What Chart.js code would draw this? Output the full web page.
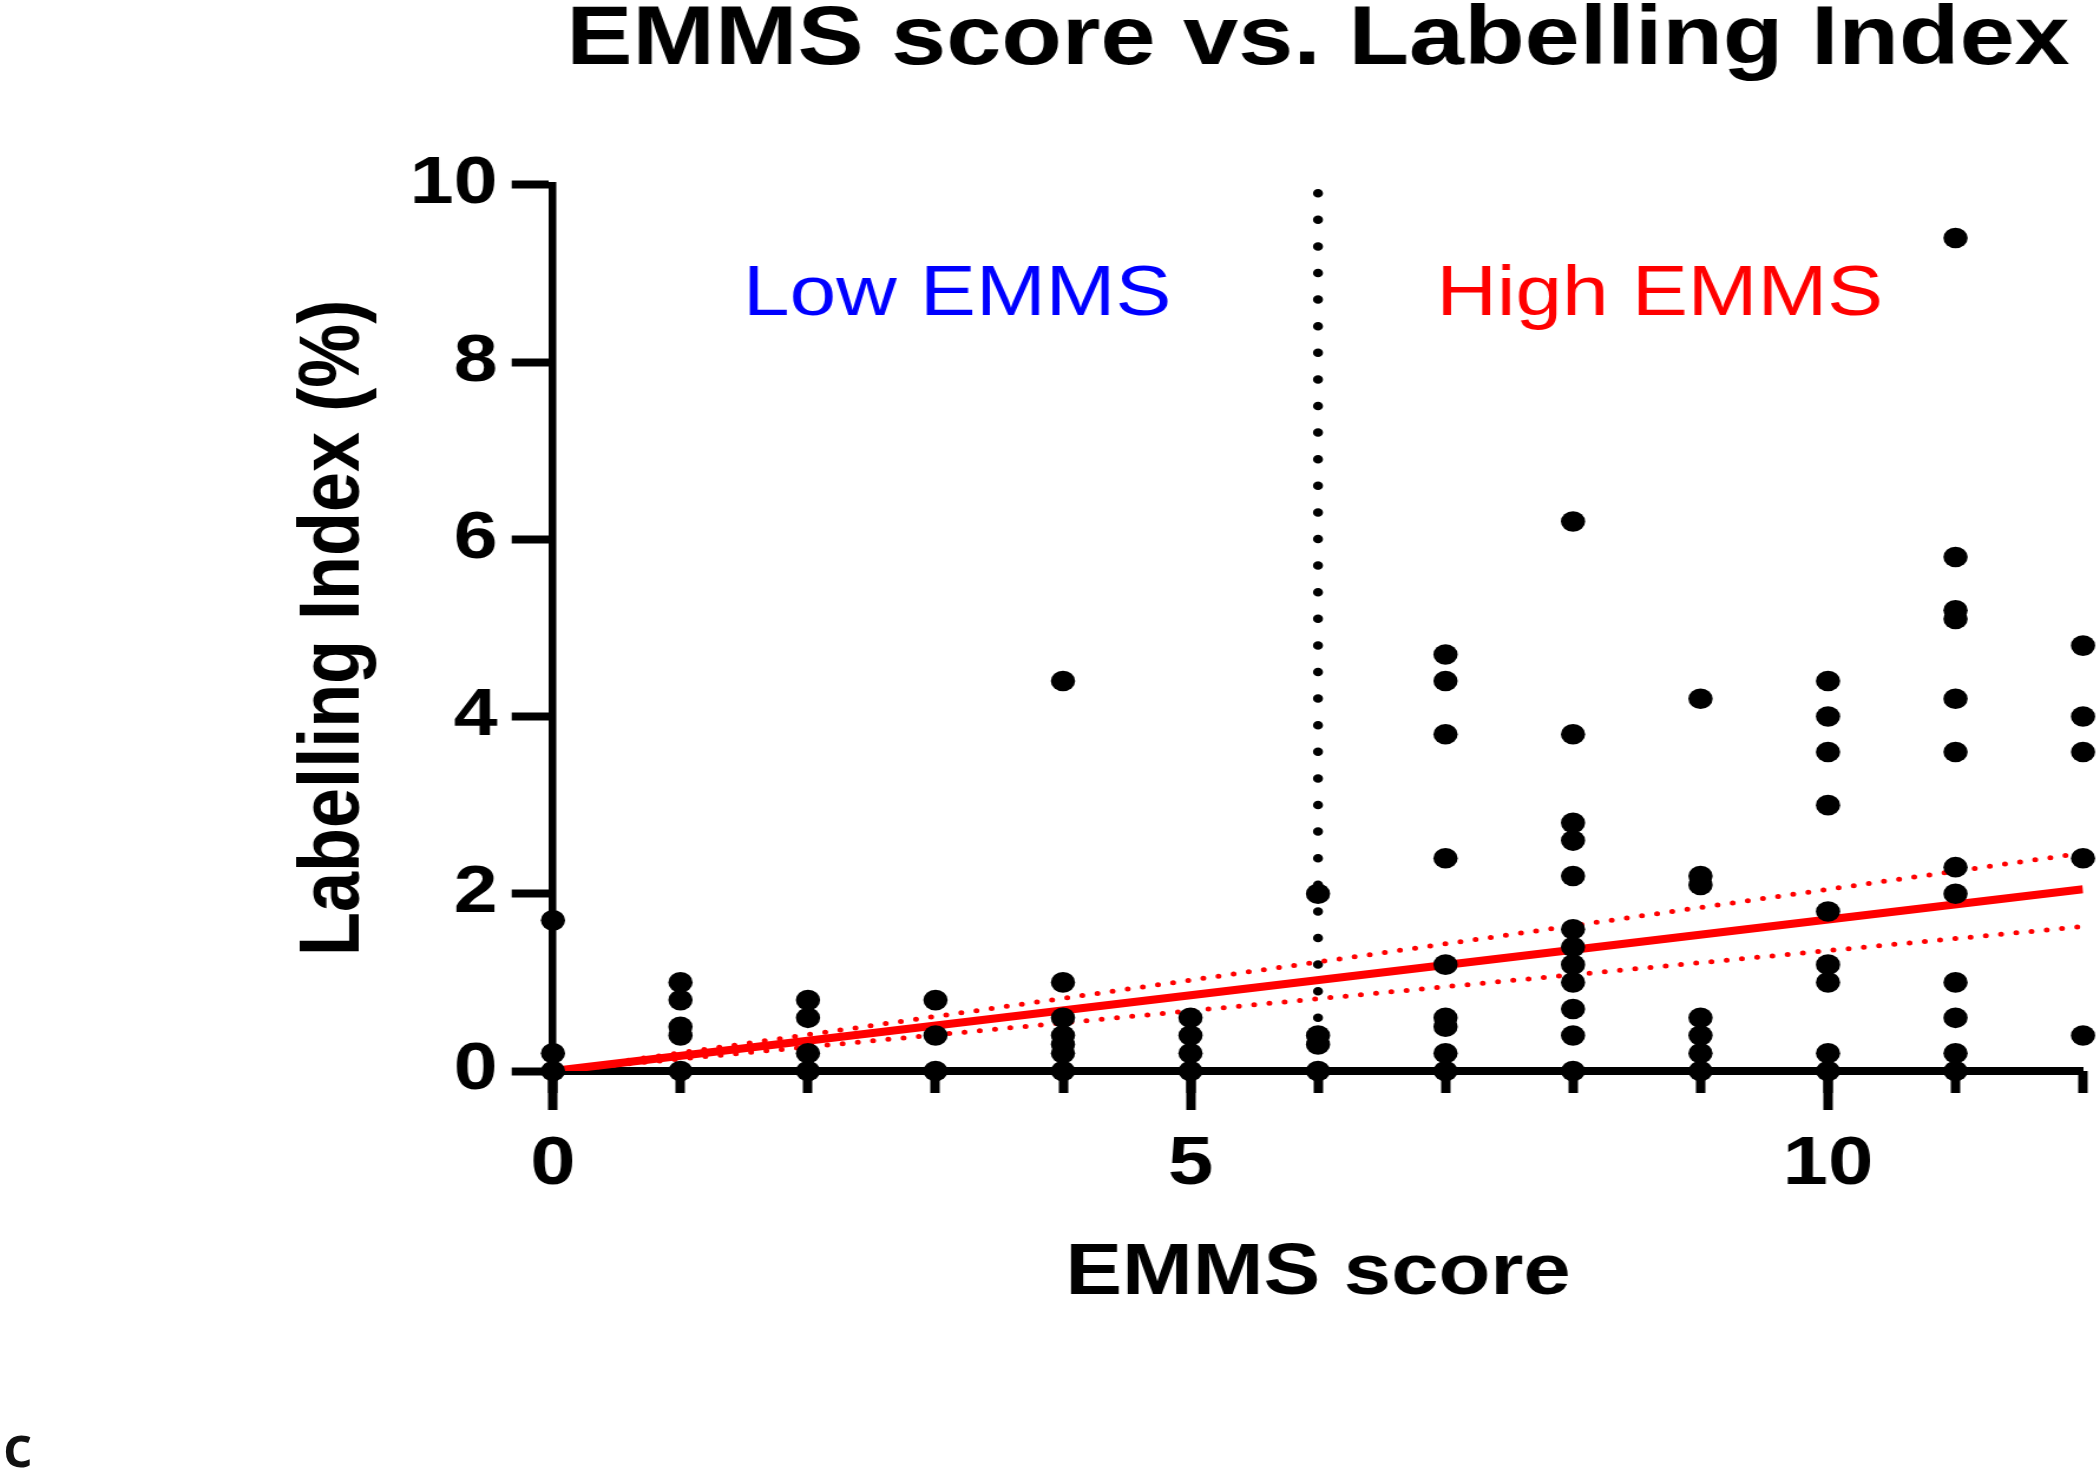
<!DOCTYPE html>
<html lang="en">
<head>
    <meta charset="UTF-8">
    <title>EMMS score vs. Labelling Index</title>
    <script src="https://cdn.jsdelivr.net/npm/chart.js"></script>
    <style>
        html, body {
            margin: 0;
            padding: 0;
            background: #fff;
            width: 2100px;
            height: 1474px;
            overflow: hidden;
        }
        /* the original figure is stretched sideways, so the chart is drawn narrower and widened */
        #wrap {
            position: absolute;
            left: 0;
            top: 0;
            width: 1780px;
            height: 1474px;
            transform: scaleX(1.17978);
            transform-origin: 0 0;
        }
        #panel {
            position: absolute;
            left: 3px;
            top: 1416px;
            font-family: 'Noto Sans', sans-serif;
            font-weight: 600;
            font-size: 58px;
            line-height: 1;
            color: #111;
        }
    </style>
</head>
<body>
    <div id="wrap">
        <canvas id="emmsChart" width="1780" height="1474"></canvas>
    </div>
    <div id="panel">c</div>

    <script>
        // EMMS score categories (x) and the labelling index values seen at each score
        const emmsScores = [0, 1, 2, 3, 4, 5, 6, 7, 8, 9, 10, 11, 12];
        const labellingIndex = [
            [1.7, 0.2, 0],
            [1.0, 0.8, 0.5, 0.4, 0],
            [0.8, 0.6, 0.2, 0],
            [0.8, 0.4, 0],
            [4.4, 1.0, 0.6, 0.4, 0.3, 0.2, 0],
            [0.6, 0.4, 0.2, 0],
            [2.0, 0.4, 0.3, 0],
            [4.7, 4.4, 3.8, 2.4, 1.2, 0.6, 0.5, 0.2, 0],
            [6.2, 3.8, 2.8, 2.6, 2.2, 1.6, 1.4, 1.2, 1.0, 0.7, 0.4, 0],
            [4.2, 2.2, 2.1, 0.6, 0.4, 0.2, 0],
            [4.4, 4.0, 3.6, 3.0, 1.8, 1.2, 1.0, 0.2, 0],
            [9.4, 5.8, 5.2, 5.1, 4.2, 3.6, 2.3, 2.0, 1.0, 0.6, 0.2, 0],
            [4.8, 4.0, 3.6, 2.4, 0.4]
        ];

        // regression line and its confidence band (ends at x = 0 and x = 12)
        const fitX = [0, 12];
        const fitY = [0, 2.05];
        const ciUpperY = [0, 2.46];
        const ciLowerY = [0, 1.63];

        // cut-off between low and high EMMS
        const cutoffX = [6, 6];
        const cutoffY = [0, 10];

        const yTicks = [0, 2, 4, 6, 8, 10];

        const regionLabels = [
            { text: 'Low EMMS', x: 3.17, y: 8.75, color: '#0000ff' },
            { text: 'High EMMS', x: 8.68, y: 8.75, color: '#ff0000' }
        ];

        const points = [];
        emmsScores.forEach((s, i) => {
            labellingIndex[i].forEach(v => points.push({ x: s, y: v }));
        });
        const toXY = (xs, ys) => xs.map((x, i) => ({ x: x, y: ys[i] }));

        const boldFont = (size) => ({ family: "'Liberation Sans', Arial, sans-serif", weight: 'bold', size: size, lineHeight: 1 });

        // text labels inside the plot, placed through the scales
        const regionLabelPlugin = {
            id: 'regionLabels',
            afterDatasetsDraw(chart) {
                const { ctx, scales } = chart;
                ctx.save();
                ctx.font = "71px 'Liberation Sans', Arial, sans-serif";
                ctx.textAlign = 'center';
                ctx.textBaseline = 'middle';
                regionLabels.forEach(l => {
                    ctx.fillStyle = l.color;
                    ctx.fillText(l.text, scales.x.getPixelForValue(l.x), scales.y.getPixelForValue(l.y));
                });
                ctx.restore();
            }
        };

        const ctx = document.getElementById('emmsChart').getContext('2d');

        new Chart(ctx, {
            type: 'scatter',
            data: {
                datasets: [
                    {
                        label: 'Labelling Index',
                        data: points,
                        pointRadius: 10.3,
                        pointBackgroundColor: '#000',
                        pointBorderWidth: 0,
                        clip: false,
                        order: 0
                    },
                    {
                        label: 'Fit',
                        data: toXY(fitX, fitY),
                        showLine: true,
                        borderColor: '#ff0000',
                        borderWidth: 8,
                        pointRadius: 0,
                        order: 1
                    },
                    {
                        label: 'CI upper',
                        data: toXY(fitX, ciUpperY),
                        showLine: true,
                        borderColor: '#ff0000',
                        borderWidth: 5,
                        borderDash: [0, 13],
                        borderCapStyle: 'round',
                        pointRadius: 0,
                        order: 2
                    },
                    {
                        label: 'CI lower',
                        data: toXY(fitX, ciLowerY),
                        showLine: true,
                        borderColor: '#ff0000',
                        borderWidth: 5,
                        borderDash: [0, 13],
                        borderCapStyle: 'round',
                        pointRadius: 0,
                        order: 2
                    },
                    {
                        label: 'Cut-off',
                        data: toXY(cutoffX, cutoffY),
                        showLine: true,
                        borderColor: '#000',
                        borderWidth: 8.5,
                        borderDash: [0, 26.6],
                        borderCapStyle: 'round',
                        pointRadius: 0,
                        clip: false,
                        order: 3
                    }
                ]
            },
            options: {
                responsive: false,
                animation: false,
                layout: { padding: { left: 0, right: 14.4, top: 0, bottom: 0 } },
                scales: {
                    x: {
                        type: 'linear',
                        position: 'bottom',
                        weight: 1,
                        min: 0,
                        max: 12,
                        afterFit: (scale) => { scale.height = 403; },
                        border: { display: true, color: '#000', width: 8 },
                        grid: {
                            drawOnChartArea: false,
                            drawTicks: true,
                            tickLength: 39,
                            tickWidth: 8,
                            tickColor: '#000'
                        },
                        ticks: {
                            stepSize: 5,
                            includeBounds: false,
                            padding: 20,
                            color: '#000',
                            font: boldFont(69)
                        },
                        title: {
                            display: true,
                            text: 'EMMS score',
                            color: '#000',
                            font: boldFont(72),
                            padding: { top: 0, bottom: 164 }
                        }
                    },
                    xMinor: {
                        type: 'linear',
                        position: 'bottom',
                        weight: 0,
                        min: 0,
                        max: 12,
                        afterFit: (scale) => { scale.height = 0; },
                        border: { display: false },
                        grid: {
                            drawOnChartArea: false,
                            drawTicks: true,
                            tickLength: 22,
                            tickWidth: 8,
                            tickColor: '#000'
                        },
                        ticks: { display: false, stepSize: 1 }
                    },
                    y: {
                        type: 'linear',
                        position: 'left',
                        min: 0,
                        max: 10,
                        afterFit: (scale) => { scale.width = 468.7; },
                        afterBuildTicks: (scale) => { scale.ticks = yTicks.map(v => ({ value: v })); },
                        border: { display: true, color: '#000', width: 6.5 },
                        grid: {
                            drawOnChartArea: false,
                            drawTicks: true,
                            tickLength: 35,
                            tickWidth: 8,
                            tickColor: '#000'
                        },
                        ticks: {
                            padding: 12,
                            color: '#000',
                            font: boldFont(67)
                        },
                        title: {
                            display: true,
                            text: 'Labelling Index (%)',
                            color: '#000',
                            font: boldFont(72),
                            padding: { top: 248, bottom: 0 }
                        }
                    }
                },
                plugins: {
                    legend: { display: false },
                    tooltip: { enabled: false },
                    title: {
                        display: true,
                        fullSize: false,
                        text: 'EMMS score vs. Labelling Index',
                        color: '#000',
                        font: { family: "'Liberation Sans', Arial, sans-serif", weight: 'bold', size: 84, lineHeight: 0.8 },
                        padding: { top: 7, bottom: 110.6 }
                    }
                }
            },
            plugins: [regionLabelPlugin]
        });
    </script>
</body>
</html>
